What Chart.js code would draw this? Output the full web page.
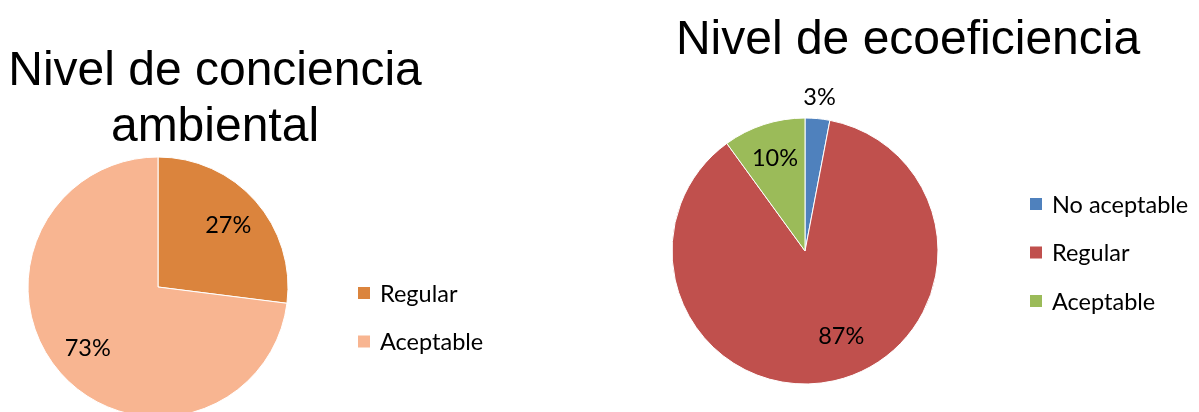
<!DOCTYPE html>
<html>
<head>
<meta charset="utf-8">
<script src="https://cdn.jsdelivr.net/npm/chart.js@4.4.1/dist/chart.umd.min.js"></script>
<style>
  html, body { margin: 0; padding: 0; background: #fff; overflow: hidden; }
  body { width: 1199px; height: 412px; position: relative; }
  .box { position: absolute; top: 0; height: 440px; }
  #left { left: 0; width: 600px; }
  #right { left: 600px; width: 599px; }
</style>
</head>
<body>
<div class="box" id="left"><canvas id="chartLeft"></canvas></div>
<div class="box" id="right"><canvas id="chartRight"></canvas></div>
<script>
// data
const conscienceLabels = ['Regular', 'Aceptable'];
const conscienceValues = [27, 73];
const conscienceColors = ['#db843d', '#f8b591'];

const ecoLabels = ['No aceptable', 'Regular', 'Aceptable'];
const ecoValues = [3, 87, 10];
const ecoColors = ['#4f81bd', '#c0504d', '#9bbb59'];

const titleFont = '48px "Liberation Sans", Arial, sans-serif';
const smallFont = '23.5px Lato, "Open Sans", sans-serif';

// draws title, % labels and legend on top of the pie
const decorations = {
  id: 'decorations',
  afterDraw(chart) {
    const cfg = chart.options.plugins.decorations;
    const ctx = chart.ctx;
    const ds = chart.data.datasets[0];
    const meta = chart.getDatasetMeta(0);
    const total = ds.data.reduce((a, b) => a + b, 0);
    ctx.save();

    // title
    ctx.fillStyle = '#000';
    ctx.font = titleFont;
    ctx.textAlign = 'center';
    ctx.textBaseline = 'alphabetic';
    cfg.title.forEach((line, i) => ctx.fillText(line, cfg.titleX, cfg.titleY + i * 56));

    // percentage labels
    ctx.font = smallFont;
    ctx.textBaseline = 'middle';
    meta.data.forEach((arc, i) => {
      const p = arc.getProps(['x', 'y', 'startAngle', 'endAngle', 'outerRadius'], true);
      const mid = (p.startAngle + p.endAngle) / 2 + (cfg.labelShift[i] || 0);
      const r = p.outerRadius * cfg.labelRadius[i];
      const pct = Math.round(ds.data[i] / total * 100) + '%';
      ctx.fillText(pct, p.x + Math.cos(mid) * r, p.y + Math.sin(mid) * r);
    });

    // legend
    ctx.textAlign = 'left';
    chart.data.labels.forEach((lab, i) => {
      const y = cfg.legendY + i * 48.5;
      ctx.fillStyle = ds.backgroundColor[i];
      ctx.fillRect(cfg.legendX, y - 6, 12, 12);
      ctx.fillStyle = '#000';
      ctx.fillText(lab, cfg.legendX + 22, y + 1);
    });
    ctx.restore();
  }
};

function pieChart(id, labels, values, colors, radius, padding, deco) {
  return new Chart(document.getElementById(id), {
    type: 'pie',
    data: {
      labels: labels,
      datasets: [{
        data: values,
        backgroundColor: colors,
        borderColor: '#fff',
        borderWidth: 1,
        hoverOffset: 0
      }]
    },
    options: {
      responsive: true,
      maintainAspectRatio: false,
      animation: false,
      radius: radius,
      layout: { padding: padding },
      plugins: {
        legend: { display: false },
        title: { display: false },
        tooltip: { enabled: false },
        decorations: deco
      }
    },
    plugins: [decorations]
  });
}

pieChart('chartLeft', conscienceLabels, conscienceValues, conscienceColors, 130,
  { left: 28, right: 312, top: 157, bottom: 23 },
  { title: ['Nivel de conciencia', 'ambiental'], titleX: 215, titleY: 85,
    labelRadius: [0.72, 0.72], labelShift: [0, 0], legendX: 358, legendY: 293 });

pieChart('chartRight', ecoLabels, ecoValues, ecoColors, 133,
  { left: 72, right: 261, top: 118, bottom: 56 },
  { title: ['Nivel de ecoeficiencia'], titleX: 308, titleY: 54,
    labelRadius: [1.16, 0.7, 0.73], labelShift: [0, -0.18, 0], legendX: 430, legendY: 204 });
</script>
</body>
</html>
